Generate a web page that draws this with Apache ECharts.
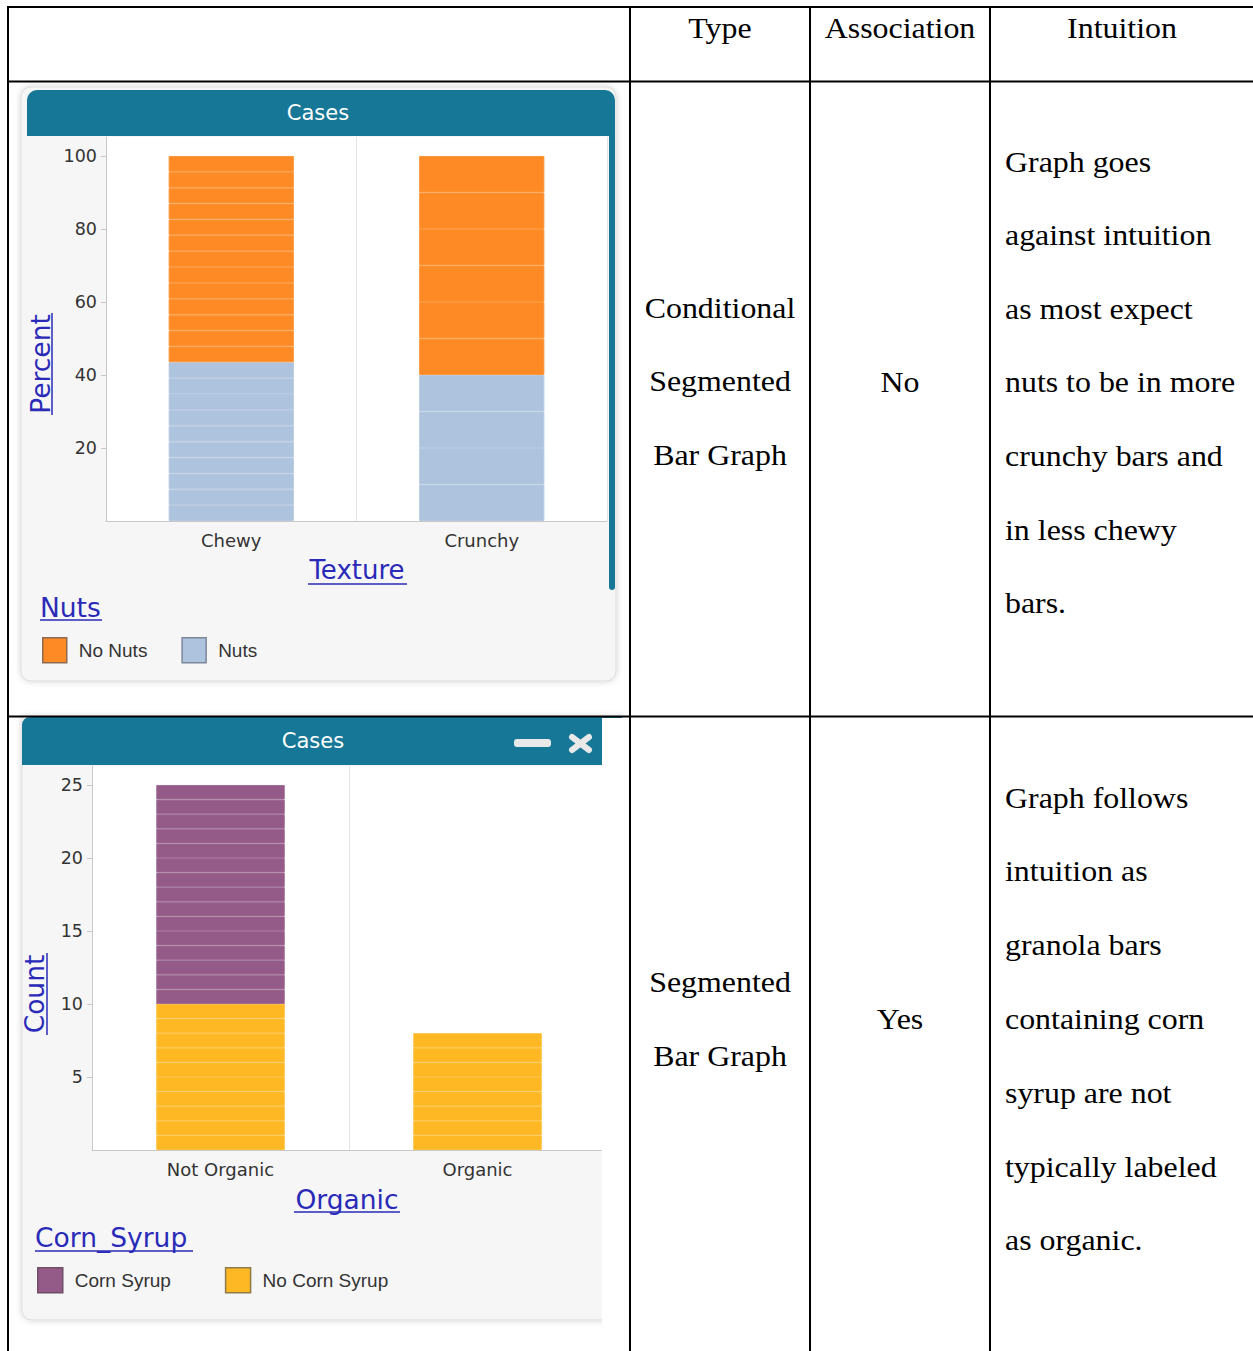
<!DOCTYPE html>
<html>
<head>
<meta charset="utf-8">
<script src="https://cdn.jsdelivr.net/npm/echarts@6/dist/echarts.min.js"></script>
<style>
html,body{margin:0;padding:0;background:#fff;}
#main{width:1253px;height:1351px;}
</style>
</head>
<body>
<div id="main"></div>
<script>
// ---------- data ----------
const textureCategories = ['Chewy', 'Crunchy'];
const noNutsCounts = [13, 6];
const nutsCounts = [10, 4];
const percentTicks = [20, 40, 60, 80, 100];

const organicCategories = ['Not Organic', 'Organic'];
const cornSyrupCounts = [15, 0];
const noCornSyrupCounts = [10, 8];
const countTicks = [5, 10, 15, 20, 25];

const headerLabels = ['Type', 'Association', 'Intuition'];
const row1Type = ['Conditional', 'Segmented', 'Bar Graph'];
const row1Association = 'No';
const row1Intuition = ['Graph goes', 'against intuition', 'as most expect', 'nuts to be in more', 'crunchy bars and', 'in less chewy', 'bars.'];
const row2Type = ['Segmented', 'Bar Graph'];
const row2Association = 'Yes';
const row2Intuition = ['Graph follows', 'intuition as', 'granola bars', 'containing corn', 'syrup are not', 'typically labeled', 'as organic.'];

// ---------- styles ----------
const TEAL = '#177797';
const LINK = '#2a2ab8';
const SANS = 'DejaVu Sans';
const SERIF = 'Liberation Serif';
const C_ORANGE = '#fd8a24', C_BLUE = '#aec3de', C_PURPLE = '#945b88', C_YELLOW = '#fdb824';

function lighten(hex, t) {
  const n = parseInt(hex.slice(1), 16);
  const c = [(n >> 16) & 255, (n >> 8) & 255, n & 255].map(v => Math.round(v + (255 - v) * t));
  return 'rgb(' + c.join(',') + ')';
}

function caseSeries(name, counts, totals, color, axisIdx, asPercent) {
  const n = Math.max(...counts);
  const out = [];
  for (let i = 0; i < n; i++) {
    out.push({
      type: 'bar', name: name, stack: 'cases' + axisIdx,
      xAxisIndex: axisIdx, yAxisIndex: axisIdx,
      barWidth: '50%', silent: true,
      itemStyle: { color: color, borderColor: lighten(color, 0.1), borderWidth: 1 },
      data: counts.map((c, j) => i < c ? (asPercent ? 100 / totals[j] : 1) : '-')
    });
  }
  return out;
}
const textureTotals = textureCategories.map((c, j) => noNutsCounts[j] + nutsCounts[j]);
const organicTotals = organicCategories.map((c, j) => cornSyrupCounts[j] + noCornSyrupCounts[j]);

const series = [].concat(
  caseSeries('Nuts', nutsCounts, textureTotals, C_BLUE, 0, true),
  caseSeries('No Nuts', noNutsCounts, textureTotals, C_ORANGE, 0, true),
  caseSeries('No Corn Syrup', noCornSyrupCounts, organicTotals, C_YELLOW, 1, false),
  caseSeries('Corn Syrup', cornSyrupCounts, organicTotals, C_PURPLE, 1, false)
);

function txt(x, y, text, o) {
  o = o || {};
  return {
    type: 'text', x: x, y: y, z: o.z != null ? o.z : 110, rotation: o.rotation || 0,
    scaleX: o.scaleX || 1, silent: true,
    style: {
      text: text, fill: o.fill || '#000',
      fontFamily: o.fontFamily || SERIF, fontSize: o.fontSize || 29,
      align: o.align || 'left', textAlign: o.align || 'left',
      verticalAlign: 'middle', textVerticalAlign: 'middle'
    }
  };
}
function line(x1, y1, x2, y2, color, w, z) {
  return { type: 'line', z: z != null ? z : 100, silent: true,
    shape: { x1: x1, y1: y1, x2: x2, y2: y2 },
    style: { stroke: color, lineWidth: w, lineCap: 'butt' } };
}

const graphic = [];
// panel 1 background
graphic.push({ type: 'rect', z: -10, silent: true, shape: { x: 21, y: 87, width: 595, height: 594, r: 10 },
  style: { fill: '#f6f6f6', stroke: '#dddddd', lineWidth: 1, shadowBlur: 6, shadowColor: 'rgba(0,0,0,0.18)' } });
graphic.push({ type: 'rect', z: -9, silent: true, shape: { x: 27, y: 90, width: 588, height: 46, r: [10, 10, 0, 0] }, style: { fill: TEAL } });
graphic.push({ type: 'rect', z: -9, silent: true, shape: { x: 609, y: 100, width: 6, height: 490, r: [0, 0, 3, 3] }, style: { fill: TEAL } });
graphic.push(txt(318, 113, 'Cases', { fill: '#ffffff', fontFamily: SANS, fontSize: 21, align: 'center' }));

// panel 2 background
graphic.push({ type: 'rect', z: -10, silent: true, shape: { x: 22, y: 717, width: 600, height: 603, r: [0, 0, 10, 10] },
  style: { fill: '#f6f6f6', stroke: '#dddddd', lineWidth: 1, shadowBlur: 6, shadowColor: 'rgba(0,0,0,0.18)' } });
graphic.push({ type: 'rect', z: -9, silent: true, shape: { x: 22, y: 717, width: 600, height: 48, r: [8, 0, 0, 0] }, style: { fill: TEAL } });
graphic.push(txt(313, 741, 'Cases', { fill: '#ffffff', fontFamily: SANS, fontSize: 21, align: 'center' }));
graphic.push({ type: 'rect', z: 5, silent: true, shape: { x: 514, y: 739, width: 37, height: 8, r: 3 }, style: { fill: '#e9e9e9' } });
const xa = line(572, 737, 589, 750, '#e9e9e9', 6, 5); xa.style.lineCap = 'round'; graphic.push(xa);
const xb = line(589, 737, 572, 750, '#e9e9e9', 6, 5); xb.style.lineCap = 'round'; graphic.push(xb);

// axis / legend titles (underlined links)
graphic.push(txt(357, 570, 'Texture', { fill: LINK, fontFamily: SANS, fontSize: 26, align: 'center' }));
graphic.push(line(308, 584, 407, 584, LINK, 1.5, 110));
graphic.push(txt(40, 364, 'Percent', { fill: LINK, fontFamily: SANS, fontSize: 26.5, align: 'center', rotation: Math.PI / 2 }));
graphic.push(line(52, 313, 52, 415, LINK, 1.5, 110));
graphic.push(txt(40, 607, 'Nuts', { fill: LINK, fontFamily: SANS, fontSize: 26.5 }));
graphic.push(line(40, 620, 102, 620, LINK, 1.5, 110));

graphic.push(txt(347, 1199, 'Organic', { fill: LINK, fontFamily: SANS, fontSize: 26.5, align: 'center' }));
graphic.push(line(294, 1212, 400, 1212, LINK, 1.5, 110));
graphic.push(txt(34, 994, 'Count', { fill: LINK, fontFamily: SANS, fontSize: 26.5, align: 'center', rotation: Math.PI / 2 }));
graphic.push(line(47, 953, 47, 1035, LINK, 1.5, 110));
graphic.push(txt(35, 1237, 'Corn_Syrup', { fill: LINK, fontFamily: SANS, fontSize: 26.5 }));
graphic.push(line(35, 1251, 193, 1251, LINK, 1.5, 110));

// white mask right of panel 2 (cropped screenshot edge)
graphic.push({ type: 'rect', z: 50, silent: true, shape: { x: 602, y: 718, width: 28, height: 640 }, style: { fill: '#ffffff' } });

// table lines
const TL = '#000';
graphic.push(line(7, 7, 1253, 7, TL, 2));
graphic.push(line(8, 6, 8, 1351, TL, 2));
graphic.push(line(7, 81.5, 1253, 81.5, TL, 2));
graphic.push(line(7, 716.5, 1253, 716.5, TL, 2));
[630, 810, 990].forEach(x => graphic.push(line(x, 6, x, 1351, TL, 2)));

// table text
const SX = 1.1;
graphic.push(txt(720, 28, headerLabels[0], { align: 'center', scaleX: SX }));
graphic.push(txt(900, 28, headerLabels[1], { align: 'center', scaleX: SX }));
graphic.push(txt(1122, 28, headerLabels[2], { align: 'center', scaleX: SX }));
row1Type.forEach((t, i) => graphic.push(txt(720, 308 + i * 73.8, t, { align: 'center', scaleX: SX })));
graphic.push(txt(900, 382, row1Association, { align: 'center', scaleX: SX }));
row1Intuition.forEach((t, i) => graphic.push(txt(1005, 162 + i * 73.6, t, { scaleX: SX })));
row2Type.forEach((t, i) => graphic.push(txt(720, 982 + i * 74, t, { align: 'center', scaleX: SX })));
graphic.push(txt(900, 1019, row2Association, { align: 'center', scaleX: SX }));
row2Intuition.forEach((t, i) => graphic.push(txt(1005, 798 + i * 73.8, t, { scaleX: SX })));

const axisGray = '#c8c8c8';
const tickLabel = { fontFamily: SANS, fontSize: 17.5, color: '#333' };

const option = {
  animation: false,
  grid: [
    { left: 106, top: 137, width: 501, height: 384, show: true, backgroundColor: '#ffffff', borderWidth: 0 },
    { left: 92, top: 766, width: 514, height: 384, show: true, backgroundColor: '#ffffff', borderWidth: 0 }
  ],
  xAxis: [
    { type: 'category', gridIndex: 0, data: textureCategories,
      axisLine: { lineStyle: { color: axisGray } },
      axisTick: { alignWithLabel: true, length: 5, lineStyle: { color: axisGray } },
      axisLabel: Object.assign({ margin: 10 }, tickLabel, { fontSize: 18 }),
      splitLine: { show: true, lineStyle: { color: '#e3e3e3' } } },
    { type: 'category', gridIndex: 1, data: organicCategories,
      axisLine: { lineStyle: { color: axisGray } },
      axisTick: { alignWithLabel: true, length: 5, lineStyle: { color: axisGray } },
      axisLabel: Object.assign({ margin: 10 }, tickLabel, { fontSize: 18 }),
      splitLine: { show: true, lineStyle: { color: '#e3e3e3' } } }
  ],
  yAxis: [
    { type: 'value', gridIndex: 0, min: 0, max: 105.2, interval: 20,
      axisLine: { show: true, lineStyle: { color: axisGray } },
      axisTick: { show: true, length: 5, customValues: percentTicks, lineStyle: { color: axisGray } },
      axisLabel: Object.assign({ margin: 9, customValues: percentTicks }, tickLabel),
      splitLine: { show: false } },
    { type: 'value', gridIndex: 1, min: 0, max: 26.3, interval: 5,
      axisLine: { show: true, lineStyle: { color: axisGray } },
      axisTick: { show: true, length: 5, customValues: countTicks, lineStyle: { color: axisGray } },
      axisLabel: Object.assign({ margin: 9, customValues: countTicks }, tickLabel),
      splitLine: { show: false } }
  ],
  legend: [
    { left: 42, top: 637, padding: 0, orient: 'horizontal', itemWidth: 24, itemHeight: 25, itemGap: 34, selectedMode: false,
      icon: 'rect',
      textStyle: { fontFamily: 'Liberation Sans', fontSize: 19, color: '#333', padding: [0, 0, 0, 7] },
      data: [
        { name: 'No Nuts', itemStyle: { color: C_ORANGE, borderColor: '#8d6a55', borderWidth: 1.5 } },
        { name: 'Nuts', itemStyle: { color: C_BLUE, borderColor: '#7b8799', borderWidth: 1.5 } }
      ] },
    { left: 37, top: 1267, padding: 0, orient: 'horizontal', itemWidth: 25, itemHeight: 25, itemGap: 54, selectedMode: false,
      icon: 'rect',
      textStyle: { fontFamily: 'Liberation Sans', fontSize: 19, color: '#333', padding: [0, 0, 0, 7] },
      data: [
        { name: 'Corn Syrup', itemStyle: { color: C_PURPLE, borderColor: '#6e4f68', borderWidth: 1.5 } },
        { name: 'No Corn Syrup', itemStyle: { color: C_YELLOW, borderColor: '#8f7a4a', borderWidth: 1.5 } }
      ] }
  ],
  graphic: { elements: graphic },
  series: series
};

const chart = echarts.init(document.getElementById('main'), null, { renderer: 'svg', width: 1253, height: 1351 });
chart.setOption(option);
</script>
</body>
</html>
